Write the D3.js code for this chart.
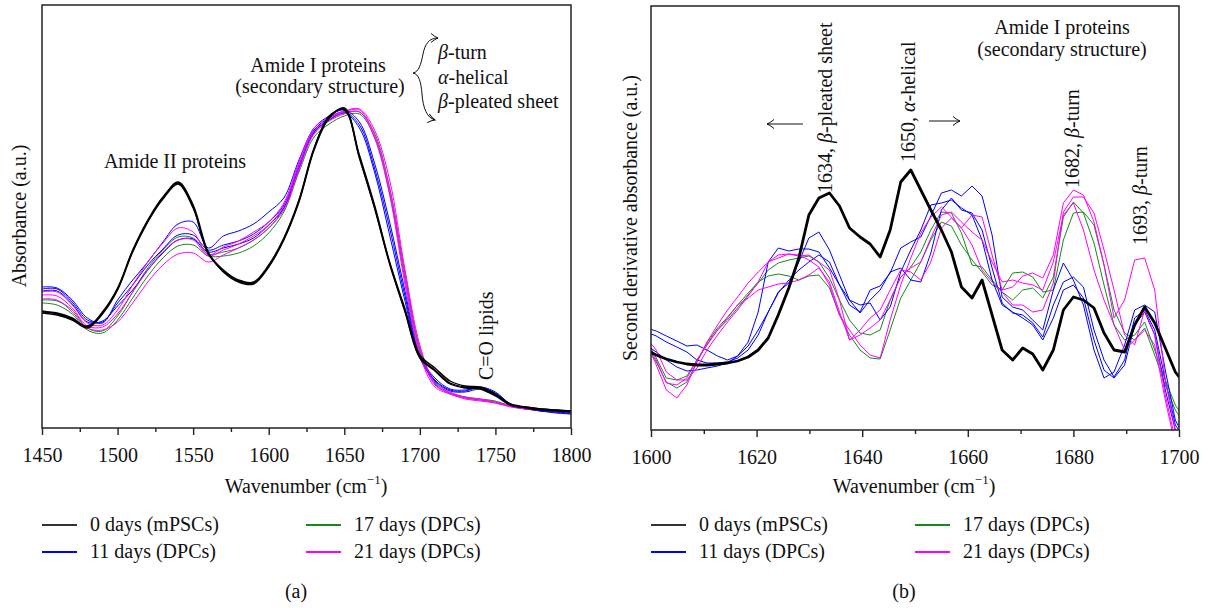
<!DOCTYPE html>
<html>
<head>
<meta charset="utf-8">
<script src="https://cdnjs.cloudflare.com/ajax/libs/d3/7.8.5/d3.min.js"></script>
<style>
body { margin: 0; background: #fff; }
text { font-family: "Liberation Serif", "Times New Roman", serif; font-size: 20px; fill: #111; }
</style>
</head>
<body>
<svg id="fig" width="1209" height="608"></svg>
<script>
// ---- panel (a): absorbance spectra, milli a.u. ----
var wavenumberA = [1450, 1460, 1470, 1480, 1490, 1500, 1510, 1520, 1530, 1540, 1550, 1560, 1570, 1580, 1590, 1600, 1610, 1620,
    1630, 1640, 1650, 1660, 1670, 1680, 1690, 1700, 1710, 1720, 1730, 1740, 1750, 1760, 1770, 1780, 1790, 1800];

var abs0d_1 = [116, 115, 110, 101, 116, 140, 178, 208, 231, 245, 221, 175, 158, 148, 146, 163, 190, 228, 280, 311, 319, 271, 221, 165, 118, 71, 58, 45, 41, 40, 33, 23, 21, 19, 18, 17];
var abs0d_2 = [115, 113, 108, 100, 114, 138, 176, 206, 230, 246, 223, 176, 156, 146, 144, 161, 188, 226, 278, 310, 320, 273, 223, 166, 120, 73, 60, 47, 42, 41, 34, 24, 21, 19, 18, 17];
var abs0d_3 = [117, 114, 109, 102, 115, 139, 177, 207, 229, 244, 220, 174, 157, 147, 145, 162, 189, 227, 279, 312, 318, 270, 220, 164, 117, 70, 57, 44, 40, 39, 32, 23, 20, 18, 17, 16];
var abs11d_1 = [141, 140, 128, 110, 105, 128, 148, 166, 186, 204, 206, 180, 192, 197, 204, 216, 230, 268, 300, 312, 318, 306, 265, 206, 138, 73, 48, 38, 37, 41, 36, 24, 20, 17, 16, 14];
var abs11d_2 = [139, 139, 126, 108, 106, 125, 143, 163, 179, 193, 193, 178, 183, 187, 194, 206, 223, 263, 298, 310, 316, 303, 260, 200, 133, 72, 50, 39, 38, 40, 35, 24, 20, 17, 16, 15];
var abs11d_3 = [137, 137, 124, 106, 107, 122, 138, 158, 175, 188, 189, 176, 180, 184, 190, 203, 220, 260, 296, 308, 315, 300, 256, 193, 128, 70, 47, 37, 36, 39, 34, 23, 19, 17, 15, 14];
var abs17d_1 = [128, 127, 118, 100, 97, 112, 136, 160, 178, 191, 190, 174, 176, 180, 188, 200, 220, 261, 295, 308, 315, 316, 295, 240, 156, 80, 46, 35, 31, 29, 27, 22, 19, 18, 17, 16];
var abs17d_2 = [125, 123, 114, 98, 95, 108, 130, 152, 170, 182, 183, 172, 172, 175, 182, 195, 216, 256, 291, 304, 312, 314, 291, 235, 150, 76, 44, 34, 30, 28, 26, 22, 19, 18, 17, 16];
var abs21d_1 = [136, 136, 123, 105, 103, 118, 143, 166, 185, 200, 196, 173, 181, 187, 196, 206, 225, 266, 300, 311, 317, 319, 298, 248, 160, 83, 45, 36, 31, 29, 26, 22, 20, 18, 17, 16];
var abs21d_2 = [133, 132, 120, 102, 101, 114, 136, 158, 176, 188, 188, 172, 178, 184, 192, 203, 222, 262, 297, 309, 316, 318, 293, 240, 153, 78, 43, 35, 30, 28, 25, 22, 19, 18, 17, 16];
var abs21d_3 = [129, 128, 116, 100, 98, 106, 125, 146, 163, 174, 175, 166, 173, 180, 188, 200, 218, 258, 294, 307, 314, 316, 290, 233, 145, 73, 41, 34, 29, 27, 25, 21, 19, 18, 17, 16];

// ---- panel (b): second derivative, a.u. ----
var wavenumberB = [1599.1, 1601.0, 1602.9, 1604.9, 1606.8, 1608.7, 1610.6, 1612.6, 1614.5, 1616.4, 1618.4, 1620.3, 1622.2, 1624.1,
    1626.1, 1628.0, 1629.9, 1631.8, 1633.8, 1635.7, 1637.6, 1639.6, 1641.5, 1643.4, 1645.3, 1647.3, 1649.2, 1651.1, 1653.0, 1655.0,
    1656.9, 1658.8, 1660.8, 1662.7, 1664.6, 1666.5, 1668.5, 1670.4, 1672.3, 1674.2, 1676.2, 1678.1, 1680.0, 1681.9, 1683.9, 1685.8,
    1687.7, 1689.7, 1691.6, 1693.5, 1695.4, 1697.4, 1699.3, 1701.2];

var d2_0d = [80, 75, 71, 68, 66, 65, 65, 66, 67, 69, 73, 80, 92, 115, 142, 172, 215, 232, 237, 224, 202, 193, 186, 173, 200, 248, 260, 240, 220, 200, 178, 143, 132, 150, 115, 80, 70, 82, 76, 60, 80, 120, 133, 130, 122, 97, 80, 78, 105, 123, 107, 82, 58, 45];
var d2_11d_1 = [102, 99, 94, 89, 84, 85, 80, 74, 70, 74, 88, 118, 168, 182, 179, 181, 181, 178, 162, 145, 125, 118, 140, 144, 157, 182, 188, 193, 214, 237, 240, 234, 244, 234, 195, 133, 123, 120, 110, 100, 140, 167, 150, 125, 80, 52, 58, 85, 120, 125, 118, 60, 10, -10];
var d2_11d_2 = [98, 94, 88, 83, 78, 70, 67, 67, 68, 72, 80, 95, 118, 138, 147, 168, 192, 198, 180, 155, 130, 117, 130, 140, 158, 162, 150, 148, 177, 220, 232, 220, 217, 200, 162, 127, 117, 115, 107, 93, 125, 148, 153, 143, 100, 70, 53, 70, 112, 120, 100, 50, 5, -10];
var d2_11d_3 = [85, 78, 70, 63, 59, 60, 62, 64, 67, 74, 84, 100, 118, 137, 150, 160, 168, 175, 168, 145, 130, 125, 127, 110, 123, 158, 180, 200, 225, 227, 230, 222, 215, 190, 150, 125, 118, 112, 105, 90, 112, 140, 145, 132, 90, 60, 52, 65, 105, 118, 95, 40, 0, -10];
var d2_17d_1 = [90, 72, 52, 50, 54, 70, 85, 100, 110, 122, 135, 147, 160, 167, 170, 172, 174, 168, 152, 130, 110, 97, 95, 100, 130, 153, 163, 178, 200, 218, 217, 197, 165, 163, 150, 138, 130, 140, 142, 132, 153, 213, 228, 217, 187, 145, 105, 90, 95, 108, 80, 50, 25, 10];
var d2_17d_2 = [85, 68, 48, 42, 48, 68, 87, 102, 113, 125, 137, 148, 154, 156, 154, 150, 154, 155, 142, 115, 95, 80, 72, 71, 100, 132, 150, 168, 190, 208, 204, 185, 170, 158, 145, 140, 157, 158, 153, 138, 140, 190, 217, 218, 205, 165, 120, 97, 90, 102, 75, 45, 20, 5];
var d2_21d_1 = [92, 80, 58, 50, 50, 62, 80, 95, 108, 120, 134, 148, 168, 175, 176, 174, 175, 168, 160, 130, 90, 100, 112, 120, 140, 160, 158, 150, 168, 202, 212, 202, 215, 213, 175, 140, 143, 154, 157, 152, 175, 227, 240, 235, 208, 165, 112, 130, 170, 172, 140, 50, 0, -20];
var d2_21d_2 = [88, 65, 40, 32, 45, 68, 88, 105, 120, 133, 147, 158, 168, 172, 176, 175, 170, 163, 145, 115, 100, 85, 75, 72, 110, 145, 172, 197, 213, 223, 213, 202, 185, 160, 148, 138, 125, 125, 118, 120, 147, 218, 233, 233, 217, 180, 140, 95, 85, 120, 95, 35, -10, -20];
var d2_21d_3 = [85, 70, 47, 45, 52, 70, 85, 100, 112, 125, 132, 140, 143, 146, 147, 150, 155, 162, 148, 118, 90, 95, 102, 110, 130, 153, 162, 168, 192, 215, 218, 208, 198, 190, 168, 148, 150, 147, 145, 140, 168, 215, 227, 200, 160, 130, 105, 80, 90, 100, 85, 30, -15, -25];

var legendLabels = ["0 days (mPSCs)", "11 days (DPCs)", "17 days (DPCs)", "21 days (DPCs)"];
var seriesColors = ["#000000", "#0000ff", "#178a17", "#ff00ff"];

var majorTicksA = [1450, 1500, 1550, 1600, 1650, 1700, 1750, 1800];
var minorTicksA = [1475, 1525, 1575, 1625, 1675, 1725, 1775];
var majorTicksB = [1600, 1620, 1640, 1660, 1680, 1700];
var minorTicksB = [1610, 1630, 1650, 1670, 1690];

var svg = d3.select("#fig");

// arrow head used by annotations
svg.append("defs").append("marker")
    .attr("id", "arrowhead")
    .attr("viewBox", "-8 -5 9 10")
    .attr("markerUnits", "userSpaceOnUse")
    .attr("markerWidth", 9)
    .attr("markerHeight", 10)
    .attr("refX", 0)
    .attr("refY", 0)
    .attr("orient", "auto")
    .append("path")
    .attr("d", "M-7,-4.5 Q-3,-1 0,0 Q-3,1 -7,4.5")
    .attr("fill", "none")
    .attr("stroke", "#111")
    .attr("stroke-width", 1);

function bottomTicks(g, x, y0, major, minor) {
    var minorAxis = g.append("g")
        .attr("transform", "translate(0," + y0 + ")")
        .call(d3.axisBottom(x).tickValues(minor).tickSize(4).tickSizeOuter(0).tickFormat(""));
    minorAxis.select(".domain").remove();
    var majorAxis = g.append("g")
        .attr("transform", "translate(0," + y0 + ")")
        .call(d3.axisBottom(x).tickValues(major).tickSize(7).tickSizeOuter(0).tickPadding(13).tickFormat(d3.format("d")));
    majorAxis.select(".domain").remove();
    g.selectAll(".tick line").attr("stroke", "#222").attr("stroke-width", 1.4);
}

function xTitle(g, cx) {
    var t = g.append("text")
        .attr("x", cx)
        .attr("y", 493)
        .attr("text-anchor", "middle")
        .text("Wavenumber (cm");
    t.append("tspan").attr("dy", -9).style("font-size", "13px").text("\u22121");
    t.append("tspan").attr("dy", 9).text(")");
}

function legend(g, x0, x1) {
    var pos = [[x0, 525], [x0, 552], [x1, 525], [x1, 552]];
    legendLabels.forEach(function(label, i) {
        g.append("line")
            .attr("x1", pos[i][0])
            .attr("x2", pos[i][0] + 35)
            .attr("y1", pos[i][1])
            .attr("y2", pos[i][1])
            .attr("stroke", i == 0 ? "#333" : seriesColors[i])
            .attr("stroke-width", 2);
        g.append("text")
            .attr("x", pos[i][0] + 48)
            .attr("y", pos[i][1] + 6)
            .text(label);
    });
}

function greek(t, letter, rest) {
    t.append("tspan").style("font-style", "italic").text(letter);
    t.append("tspan").text(rest);
}

function renderSpectra() {
    var x = d3.scaleLinear().domain([1450, 1800]).range([42, 571]),
        y = d3.scaleLinear().domain([0, 423]).range([428, 5]);
    var g = svg.append("g");

    var groups = [
        { color: seriesColors[2], width: 1, series: [abs17d_1, abs17d_2] },
        { color: seriesColors[1], width: 1, series: [abs11d_1, abs11d_2, abs11d_3] },
        { color: seriesColors[3], width: 1, series: [abs21d_1, abs21d_2, abs21d_3] },
        { color: seriesColors[0], width: 1.4, series: [abs0d_1, abs0d_2, abs0d_3] }
    ];

    var line = d3.line()
        .x(function(d, i) { return x(wavenumberA[i]); })
        .y(function(d) { return y(d); })
        .curve(d3.curveCatmullRom.alpha(0.5));

    groups.forEach(function(grp) {
        grp.series.forEach(function(s) {
            g.append("path")
                .attr("d", line(s))
                .attr("fill", "none")
                .attr("stroke", grp.color)
                .attr("stroke-width", grp.width);
        });
    });

    g.append("rect")
        .attr("x", 42).attr("y", 5)
        .attr("width", 571 - 42).attr("height", 428 - 5)
        .attr("fill", "none")
        .attr("stroke", "#222")
        .attr("stroke-width", 1.5);

    bottomTicks(g, x, 428, majorTicksA, minorTicksA);
    xTitle(g, 306);

    g.append("text")
        .attr("transform", "translate(26,216) rotate(-90)")
        .attr("text-anchor", "middle")
        .text("Absorbance (a.u.)");

    // annotations
    g.append("text").attr("x", 175).attr("y", 168).attr("text-anchor", "middle").text("Amide II proteins");
    g.append("text").attr("x", 318).attr("y", 72).attr("text-anchor", "middle").text("Amide I proteins");
    g.append("text").attr("x", 320).attr("y", 93).attr("text-anchor", "middle").text("(secondary structure)");

    g.append("path")
        .attr("d", "M413,73 C419,72 421,64 423,54 C425,44 429,38 438,38")
        .attr("fill", "none").attr("stroke", "#111").attr("stroke-width", 1)
        .attr("marker-end", "url(#arrowhead)");
    g.append("path")
        .attr("d", "M413,73 C419,74 421,82 422,94 C423,108 427,118 435,120")
        .attr("fill", "none").attr("stroke", "#111").attr("stroke-width", 1)
        .attr("marker-end", "url(#arrowhead)");

    greek(g.append("text").attr("x", 438).attr("y", 59), "\u03b2", "-turn");
    greek(g.append("text").attr("x", 438).attr("y", 84), "\u03b1", "-helical");
    greek(g.append("text").attr("x", 438).attr("y", 108), "\u03b2", "-pleated sheet");

    g.append("text")
        .attr("transform", "translate(493,380) rotate(-90)")
        .text("C=O lipids");

    legend(g, 42, 306);
    g.append("text").attr("x", 296).attr("y", 598).attr("text-anchor", "middle").text("(a)");
}

function renderDerivative() {
    var x = d3.scaleLinear().domain([1600, 1700]).range([651, 1179]),
        y = d3.scaleLinear().domain([0, 424]).range([430, 6]);
    var g = svg.append("g");

    g.append("clipPath").attr("id", "clipB")
        .append("rect")
        .attr("x", 651).attr("y", 6)
        .attr("width", 1179 - 651).attr("height", 430 - 6);

    var groups = [
        { color: seriesColors[2], width: 1, series: [d2_17d_1, d2_17d_2] },
        { color: seriesColors[1], width: 1, series: [d2_11d_1, d2_11d_2, d2_11d_3] },
        { color: seriesColors[3], width: 1, series: [d2_21d_1, d2_21d_2, d2_21d_3] },
        { color: seriesColors[0], width: 2.8, series: [d2_0d] }
    ];

    var line = d3.line()
        .x(function(d, i) { return x(wavenumberB[i]); })
        .y(function(d) { return y(d); });

    var plot = g.append("g").attr("clip-path", "url(#clipB)");
    groups.forEach(function(grp) {
        grp.series.forEach(function(s) {
            plot.append("path")
                .attr("d", line(s))
                .attr("fill", "none")
                .attr("stroke", grp.color)
                .attr("stroke-width", grp.width)
                .attr("stroke-linejoin", "round");
        });
    });

    g.append("rect")
        .attr("x", 651).attr("y", 6)
        .attr("width", 1179 - 651).attr("height", 430 - 6)
        .attr("fill", "none")
        .attr("stroke", "#222")
        .attr("stroke-width", 1.5);

    bottomTicks(g, x, 430, majorTicksB, minorTicksB);
    xTitle(g, 914);

    g.append("text")
        .attr("transform", "translate(637,218) rotate(-90)")
        .attr("text-anchor", "middle")
        .text("Second derivative absorbance (a.u.)");

    // band assignments
    var t1 = g.append("text").attr("transform", "translate(" + (x(1634) + 1) + ",193) rotate(-90)");
    greek(t1, "", "1634, ");
    greek(t1, "\u03b2", "-pleated sheet");
    var t2 = g.append("text").attr("transform", "translate(" + x(1650) + ",162) rotate(-90)");
    greek(t2, "", "1650, ");
    greek(t2, "\u03b1", "-helical");
    var t3 = g.append("text").attr("transform", "translate(" + (x(1682) - 5) + ",188) rotate(-90)");
    greek(t3, "", "1682, ");
    greek(t3, "\u03b2", "-turn");
    var t4 = g.append("text").attr("transform", "translate(" + (x(1693) + 5) + ",245) rotate(-90)");
    greek(t4, "", "1693, ");
    greek(t4, "\u03b2", "-turn");

    g.append("line")
        .attr("x1", 803).attr("x2", 767).attr("y1", 124).attr("y2", 124)
        .attr("stroke", "#111").attr("stroke-width", 1)
        .attr("marker-end", "url(#arrowhead)");
    g.append("line")
        .attr("x1", 929).attr("x2", 960).attr("y1", 121).attr("y2", 121)
        .attr("stroke", "#111").attr("stroke-width", 1)
        .attr("marker-end", "url(#arrowhead)");

    g.append("text").attr("x", 1062).attr("y", 34).attr("text-anchor", "middle").text("Amide I proteins");
    g.append("text").attr("x", 1062).attr("y", 56).attr("text-anchor", "middle").text("(secondary structure)");

    legend(g, 651, 915);
    g.append("text").attr("x", 904).attr("y", 598).attr("text-anchor", "middle").text("(b)");
}

renderSpectra();
renderDerivative();
</script>
</body>
</html>
